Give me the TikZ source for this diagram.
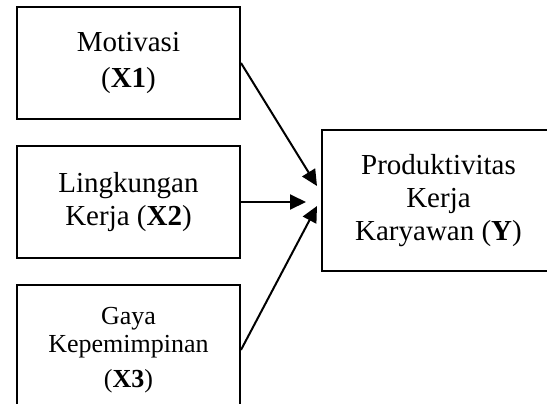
\documentclass[tikz,border=0pt]{standalone}
\usepackage{fontspec}
\setmainfont{Liberation Serif}
\usetikzlibrary{arrows.meta,positioning,calc}

\begin{document}
\begin{tikzpicture}[x=0.5pt,y=-0.5pt,line width=1pt,
    box/.style={draw,align=center,minimum width=111.5pt,minimum height=56pt,inner sep=0pt,font=\fontsize{14.5}{16.5}\selectfont},
    arr/.style={-{Triangle[length=8pt,width=7.5pt]},line width=1pt}]
  \useasboundingbox (0,0) rectangle (547,403);
  \clip (0,0) rectangle (547,403);
  % the three causes
  \node[box] (m) at (128.5,63) {Motivasi\\[1.5pt](\textbf{X1})};
  \node[box,below=12.5pt of m] (l) {Lingkungan\\Kerja (\textbf{X2})};
  \node[box,below=12.5pt of l,minimum height=0pt,inner ysep=11pt,font=\fontsize{13}{14}\selectfont] (g) {Gaya\\Kepemimpinan\hspace*{12pt}\\[3.5pt](\textbf{X3})};
  % the effect
  \node[box,minimum width=116.5pt,minimum height=70.5pt] (p) at (438.5,200.5) {Produktivitas\\Kerja\\Karyawan (\textbf{Y})};
  \coordinate (t1) at ($(p.west)+(-4,-14.5)$);
  \coordinate (t2) at ($(p.west)+(-15,1.5)$);
  \coordinate (t3) at ($(p.west)+(-4,5.5)$);
  \draw[arr] (m.east) -- (t1);
  \draw[arr] (l.east) -- (t2);
  \draw[arr] (g.east) -- (t3);
\end{tikzpicture}
\end{document}
